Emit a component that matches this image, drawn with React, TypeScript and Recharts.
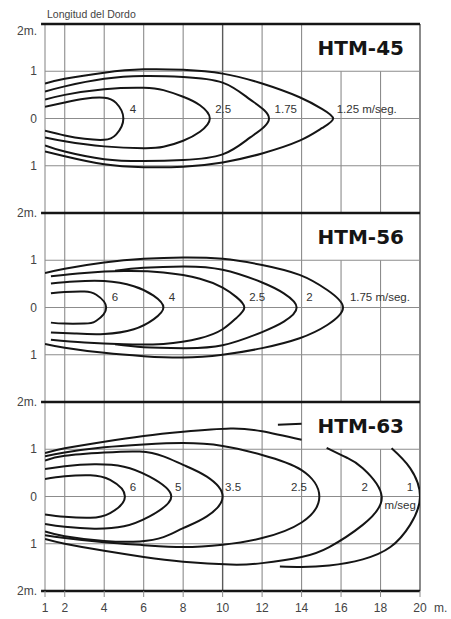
import React from 'react'
import {
  ComposedChart, Line, Scatter, XAxis, YAxis, ReferenceLine, ReferenceArea,
} from 'recharts'

// x: metres of throw, y: metres either side of the axis
const xTicks = [1, 2, 4, 6, 8, 10, 12, 14, 16, 18, 20]
const yTicksTop = [2, 1, 0, -1]
const yTicksLast = [2, 1, 0, -1, -2]

type P = [number, number | null]

// HTM-45
const htm45_4: P[] = [[1, 0.25], [2, 0.34], [3, 0.42], [4, 0.44], [4.6, 0.33], [4.97, 0], [4.6, -0.34], [4, -0.45], [3, -0.43], [2, -0.36], [1, -0.26]]
const htm45_25: P[] = [[1, 0.4], [2, 0.5], [4, 0.62], [6, 0.65], [7, 0.6], [8, 0.46], [8.85, 0.28], [9.35, 0], [8.85, -0.28], [8, -0.47], [7, -0.6], [6, -0.63], [4, -0.59], [2, -0.48], [1, -0.4]]
const htm45_175: P[] = [[1, 0.57], [2, 0.68], [4, 0.84], [6, 0.9], [8, 0.88], [10, 0.76], [11.4, 0.4], [12.35, 0], [11.4, -0.4], [10, -0.76], [8, -0.88], [6, -0.9], [4, -0.86], [2, -0.7], [1, -0.57]]
const htm45_125: P[] = [[1, 0.74], [2, 0.84], [4, 0.97], [6, 1.04], [8, 1.03], [10, 0.95], [12, 0.74], [13.9, 0.45], [15.05, 0.2], [15.6, 0], [15.05, -0.2], [13.9, -0.47], [12, -0.74], [10, -0.93], [8, -1.02], [6, -1.03], [4, -0.97], [2, -0.8], [1, -0.7]]
const htm45Labels = [
  { x: 5.46, y: 0.2, text: '4' },
  { x: 10.03, y: 0.2, text: '2.5' },
  { x: 13.2, y: 0.2, text: '1.75' },
  { x: 17.3, y: 0.2, text: '1.25 m/seg.' },
]

// HTM-56
const htm56_6: P[] = [[1.3, 0.3], [2, 0.33], [3, 0.34], [3.6, 0.27], [4.1, 0], [3.6, -0.28], [3, -0.34], [2, -0.34], [1.3, -0.32]]
const htm56_4: P[] = [[1.3, 0.51], [2.5, 0.55], [4, 0.56], [5.5, 0.45], [6.5, 0.25], [7, 0], [6.5, -0.25], [5.5, -0.46], [4, -0.56], [2.5, -0.55], [1.3, -0.53]]
const htm56_25: P[] = [[1.3, 0.66], [3, 0.73], [5, 0.77], [7, 0.74], [8.85, 0.61], [10, 0.42], [10.7, 0.22], [11.1, 0], [10.7, -0.22], [10, -0.46], [8.85, -0.65], [7, -0.77], [5, -0.78], [3, -0.74], [1.3, -0.68]]
const htm56_2: P[] = [[4.55, 0.78], [6, 0.84], [8, 0.87], [10, 0.8], [12, 0.53], [13.1, 0.3], [13.75, 0], [13.1, -0.3], [12, -0.52], [10, -0.8], [8, -0.86], [6, -0.84], [4.55, -0.78]]
const htm56_175: P[] = [[1, 0.73], [2, 0.82], [4, 0.95], [6, 1.03], [8, 1.06], [10, 1.03], [12, 0.9], [13.9, 0.69], [15.3, 0.37], [16.1, 0], [15.3, -0.37], [13.9, -0.65], [12, -0.86], [10, -1.0], [8, -1.06], [6, -1.03], [4, -0.96], [2, -0.85], [1, -0.77]]
const htm56Labels = [
  { x: 4.55, y: 0.22, text: '6' },
  { x: 7.43, y: 0.22, text: '4' },
  { x: 11.75, y: 0.22, text: '2.5' },
  { x: 14.4, y: 0.22, text: '2' },
  { x: 17.97, y: 0.22, text: '1.75 m/seg.' },
]

// HTM-63 (gaps where the curves run behind the title box)
const htm63_6: P[] = [[1, 0.37], [2, 0.43], [3.3, 0.45], [4.3, 0.35], [5.05, 0], [4.3, -0.35], [3.3, -0.45], [2, -0.43], [1, -0.38]]
const htm63_5: P[] = [[1, 0.58], [2, 0.64], [3.5, 0.68], [5, 0.63], [6.3, 0.42], [7.4, 0], [6.3, -0.42], [5, -0.63], [3.5, -0.68], [2, -0.64], [1, -0.58]]
const htm63_35: P[] = [[1, 0.76], [2, 0.86], [4, 0.93], [5.8, 0.95], [7, 0.85], [8, 0.67], [9.2, 0.42], [10, 0], [9.2, -0.42], [8, -0.67], [7, -0.86], [5.8, -0.95], [4, -0.94], [2, -0.84], [1, -0.74]]
const htm63_25: P[] = [[1, 0.85], [2, 0.93], [4, 1.04], [6, 1.1], [8, 1.13], [10, 1.07], [12, 0.88], [14, 0.56], [14.9, 0], [14, -0.55], [12, -0.88], [10, -1.02], [8, -1.07], [6, -1.03], [4, -0.97], [2, -0.88], [1, -0.82]]
const htm63_2: P[] = [[1, 0.92], [2, 1.02], [4, 1.16], [6, 1.28], [8, 1.37], [10.4, 1.44], [12, 1.38], [14, 1.2], [14.6, null], [15.27, 1.03], [16.3, 0.82], [17.1, 0.6], [18.06, 0], [17.1, -0.6], [15.4, -1.07], [14, -1.28], [12, -1.41], [10.4, -1.44], [8, -1.38], [6, -1.28], [4, -1.15], [2, -1.0], [1, -0.9]]
const htm63_1: P[] = [[12.8, 1.52], [14, 1.54], [16, null], [18.56, 1.02], [19.5, 0.6], [20, 0], [19.5, -0.6], [18.5, -1.07], [17.1, -1.33], [15.4, -1.46], [14, -1.49], [12.9, -1.48]]
const htm63Labels = [
  { x: 5.46, y: 0.21, text: '6' },
  { x: 7.75, y: 0.21, text: '5' },
  { x: 10.53, y: 0.21, text: '3.5' },
  { x: 13.87, y: 0.21, text: '2.5' },
  { x: 17.2, y: 0.21, text: '2' },
  { x: 19.49, y: 0.21, text: '1' },
  { x: 19.0, y: -0.18, text: 'm/seg' },
]

const toPts = (a: P[]) => a.map(([x, y]) => ({ x, y }))

const panels = [
  { title: 'HTM-45', curves: [htm45_4, htm45_25, htm45_175, htm45_125], labels: htm45Labels },
  { title: 'HTM-56', curves: [htm56_6, htm56_4, htm56_25, htm56_2, htm56_175], labels: htm56Labels },
  { title: 'HTM-63', curves: [htm63_6, htm63_5, htm63_35, htm63_25, htm63_2, htm63_1], labels: htm63Labels },
]

const GRID = '#8c8c8c'
const INK = '#151515'
const FONT = '"Liberation Sans", Arial, sans-serif'

const renderLabel = (props: any) => (
  <text
    x={props.cx}
    y={props.cy}
    textAnchor="middle"
    dominantBaseline="central"
    fontSize={11.5}
    fontFamily={FONT}
    fill="#333"
  >
    {props.payload.text}
  </text>
)

const makeYTick = (first: boolean) => (props: any) => {
  const v = props.payload.value
  const txt = Math.abs(v) === 2 ? '2m.' : String(Math.abs(v))
  const dy = first && v === 2 ? 7 : 0
  return (
    <text x={props.x} y={props.y + dy} textAnchor="end" dominantBaseline="central"
      fontSize={12} fontFamily={FONT} fill="#444">
      {txt}
    </text>
  )
}

const renderXTick = (props: any) => {
  const v = props.payload.value
  return (
    <g>
      <text x={props.x} y={props.y} dy="0.71em" textAnchor="middle" fontSize={12} fontFamily={FONT} fill="#444">
        {v}
      </text>
      {v === 20 && (
        <text x={props.x + 14} y={props.y} dy="0.71em" textAnchor="start" fontSize={12} fontFamily={FONT} fill="#444">
          m.
        </text>
      )}
    </g>
  )
}

function Panel({ index, top, height, marginTop }: { index: number; top: number; height: number; marginTop: number }) {
  const p = panels[index]
  const last = index === panels.length - 1
  return (
    <div style={{ position: 'absolute', left: 0, top }}>
      <ComposedChart width={451} height={height} margin={{ top: marginTop, right: 31, bottom: 0, left: 0 }}>
        <XAxis
          type="number"
          dataKey="x"
          domain={[1, 20]}
          ticks={xTicks}
          hide={!last}
          height={28}
          axisLine={false}
          tickLine={{ stroke: GRID }}
          tickSize={6}
          tickMargin={6}
          tick={renderXTick}
          allowDataOverflow
        />
        <YAxis
          type="number"
          dataKey="y"
          domain={[-2, 2]}
          ticks={last ? yTicksLast : yTicksTop}
          width={45}
          axisLine={false}
          tickLine={false}
          tickSize={0}
          tickMargin={8}
          tick={makeYTick(index === 0)}
          allowDataOverflow
        />
        {/* grid */}
        {xTicks.filter(v => v !== 16 && v !== 18).map(v => (
          <ReferenceLine key={'v' + v} x={v} stroke={v === 10 || v === 20 ? '#5a5a5a' : GRID}
            strokeWidth={v === 10 || v === 20 ? 1.4 : 1.1} />
        ))}
        {[16, 18].map(v => (
          <ReferenceLine key={'s' + v} segment={[{ x: v, y: -2 }, { x: v, y: 1 }]} stroke={GRID} strokeWidth={1.1} />
        ))}
        {[1, 0, -1].map(v => (
          <ReferenceLine key={'h' + v} y={v} stroke={GRID} strokeWidth={1.1} />
        ))}
        <ReferenceLine segment={[{ x: 0.8, y: 2 }, { x: 20, y: 2 }]} stroke={INK} strokeWidth={2.4} ifOverflow="visible" />
        {last && (
          <ReferenceLine segment={[{ x: 0.8, y: -2 }, { x: 20, y: -2 }]} stroke={INK} strokeWidth={2.4} ifOverflow="visible" />
        )}
        <ReferenceArea
          x1={14}
          x2={20}
          y1={1}
          y2={2}
          fill="none"
          stroke="none"
          label={{ value: p.title, position: 'center', fontSize: 20, fontWeight: 700, fill: INK, fontFamily: '"DejaVu Sans", sans-serif' }}
        />
        {p.curves.map((c, i) => (
          <Line
            key={i}
            data={toPts(c)}
            dataKey="y"
            type="natural"
            stroke={INK}
            strokeWidth={2}
            dot={false}
            activeDot={false}
            isAnimationActive={false}
          />
        ))}
        <Scatter data={p.labels} dataKey="y" shape={renderLabel} isAnimationActive={false} />
      </ComposedChart>
    </div>
  )
}

export default function App() {
  return (
    <div style={{ position: 'absolute', left: 0, top: 0, width: 451, height: 619, background: '#fff', overflow: 'hidden' }}>
      <div style={{ position: 'absolute', left: 47, top: 8, fontSize: 10.5, fontFamily: FONT, color: '#444' }}>
        Longitud del Dordo
      </div>
      <Panel index={0} top={0} height={213} marginTop={24} />
      <Panel index={1} top={201} height={201} marginTop={12} />
      <Panel index={2} top={390} height={229} marginTop={12} />
    </div>
  )
}
